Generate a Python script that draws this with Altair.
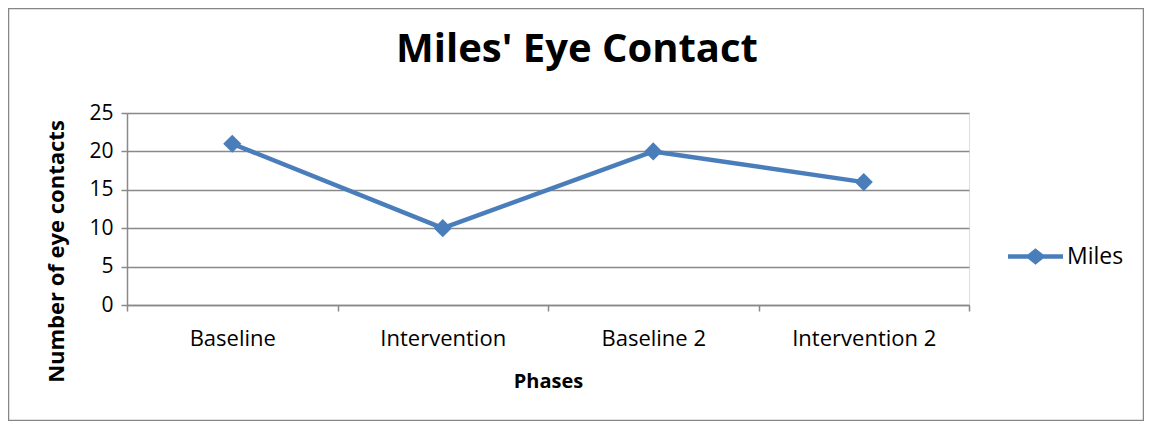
import altair as alt
import pandas as pd

phases = ["Baseline", "Intervention", "Baseline 2", "Intervention 2"]
eye_contacts = [21, 10, 20, 16]
series = ["Miles", "Miles", "Miles", "Miles"]
y_ticks = [0, 5, 10, 15, 20, 25]
chart_title = "Miles' Eye Contact"

df = pd.DataFrame({"Phase": phases, "Count": eye_contacts, "Series": series})

FONT = "Open Sans"
BLUE = "#4A7EBB"
GRID = "#898989"

W, H = 842, 192

legend_path = ("M-1,-0.08L-0.27,-0.08L0,-0.3L0.27,-0.08L1,-0.08L1,0.08L0.27,0.08"
               "L0,0.3L-0.27,0.08L-1,0.08Z")

base = alt.Chart(df).encode(
    x=alt.X("Phase:N", sort=phases, scale=alt.Scale(paddingInner=0, paddingOuter=0),
            axis=alt.Axis(title="Phases", labelAngle=0, tickBand="extent", tickSize=6,
                          labelPadding=17, labelFontSize=22, labelFont=FONT, labelColor="#000",
                          titleFont=FONT, titleFontSize=20, titleFontWeight="bold",
                          titleColor="#000", titleY=82, titleBaseline="alphabetic",
                          domainColor=GRID, domainWidth=1.5, tickColor=GRID, tickWidth=1.5,
                          grid=False)),
    y=alt.Y("Count:Q", scale=alt.Scale(domain=[0, 25], nice=False),
            axis=alt.Axis(title="Number of eye contacts", values=y_ticks, tickSize=6,
                          labelPadding=8, labelFontSize=21, labelFont=FONT, labelColor="#000",
                          titleFont=FONT, titleFontSize=22, titleFontWeight="bold",
                          titleColor="#000", titleAngle=-90, titleX=-64, titleY=138,
                          titleBaseline="alphabetic", titleAlign="center",
                          domainColor=GRID, domainWidth=1.5, tickColor=GRID, tickWidth=1.5,
                          gridColor=GRID, gridWidth=1.5)),
    color=alt.Color("Series:N", scale=alt.Scale(range=[BLUE]),
                    legend=alt.Legend(title=None, orient="none", legendX=881, legendY=116,
                                      symbolType=legend_path, symbolSize=3025,
                                      symbolFillColor=BLUE, symbolStrokeWidth=0,
                                      labelFont=FONT, labelFontSize=23, labelColor="#000",
                                      labelOffset=4)),
)

line = base.mark_line(strokeWidth=4.5, strokeJoin="round", strokeCap="round")
pts = base.mark_point(shape="diamond", size=330, filled=True, opacity=1)

one = alt.Data(values=[{"t": chart_title}])

border = alt.Chart(one).mark_rect(
    fill=None, stroke="#868686", strokeWidth=1.5, clip=False
).encode(x=alt.value(-118.5), x2=alt.value(1016.5), y=alt.value(-104.5), y2=alt.value(307.5))

title = alt.Chart(one).mark_text(
    font=FONT, fontSize=40, fontWeight="bold", color="#000", align="center",
    baseline="alphabetic"
).encode(text="t:N", x=alt.value(450), y=alt.value(-51))

chart = alt.layer(border, line, pts, title).properties(
    width=W, height=H,
    padding={"left": 119, "top": 105, "right": 175, "bottom": 116},
    autosize=alt.AutoSizeParams(type="none"),
).configure_view(stroke=None).configure(background="white")

chart.save("out.html", embed_options={"renderer": "svg", "actions": False})
